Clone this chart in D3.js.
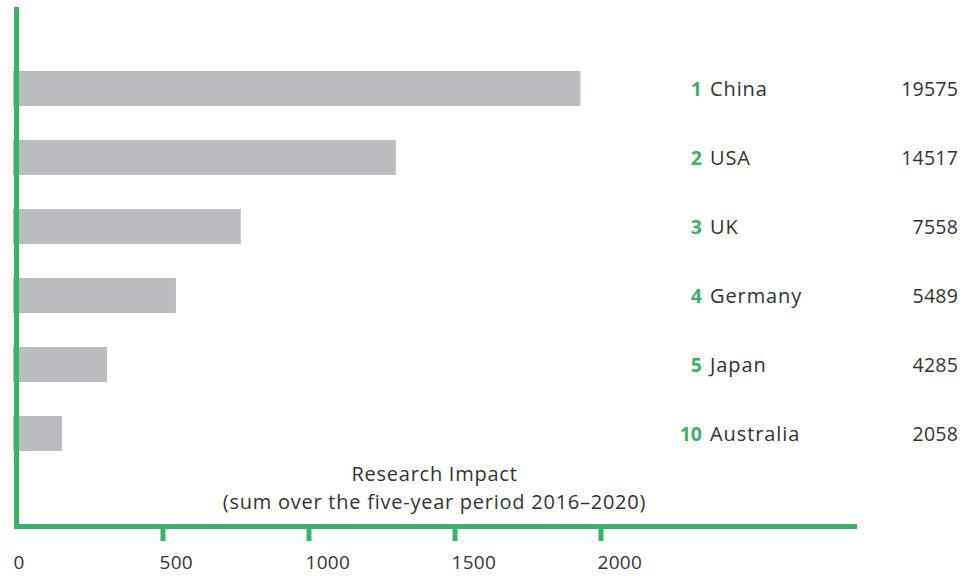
<!DOCTYPE html>
<html>
<head>
<meta charset="utf-8">
<script src="https://cdn.jsdelivr.net/npm/d3@7"></script>
<style>
  html, body { margin: 0; padding: 0; background: #fff; }
  svg { display: block; }
  text { font-family: "Open Sans", Lato, sans-serif; fill: #333; }
</style>
</head>
<body>
<svg id="chart" width="963" height="576"></svg>
<script>
// Countries in rank order, with their world rank
const countries = ["China", "USA", "UK", "Germany", "Japan", "Australia"];
const ranks = [1, 2, 3, 4, 5, 10];
// Research impact, summed over 2016–2020 (bar length)
const impact = [1931, 1299, 768, 546, 310, 156];
// Figure printed at the right of each row
const counts = [19575, 14517, 7558, 5489, 4285, 2058];
// Axis ticks
const tickValues = [0, 500, 1000, 1500, 2000];
const axisTitle = ["Research Impact", "(sum over the five-year period 2016\u20132020)"];

const green = "#3bb26b";
const barColor = "#bbbcc0";

const svg = d3.select("#chart");

const x = d3.scaleLinear().domain([0, 2000]).range([16.5, 600.5]);
const xEnd = 857;

const y = d3.scaleBand()
  .domain(countries)
  .range([54, 54 + 6 * 69])
  .paddingInner(34 / 69)
  .paddingOuter(17 / 69);

// Bars
svg.append("g")
  .selectAll("rect")
  .data(countries)
  .join("rect")
  .attr("x", x(0) - 3.5)
  .attr("y", d => y(d))
  .attr("height", y.bandwidth())
  .attr("width", (d, i) => x(impact[i]) - x(0) + 3.5)
  .attr("fill", barColor);

// Vertical axis line
svg.append("line")
  .attr("x1", x(0)).attr("x2", x(0))
  .attr("y1", 7).attr("y2", 529)
  .attr("stroke", green).attr("stroke-width", 5);

// Horizontal axis
const axisY = 526.5;
const xAxis = d3.axisBottom(x)
  .tickValues(tickValues)
  .tickFormat(d3.format("d"))
  .tickSizeInner(14.5)
  .tickSizeOuter(0)
  .tickPadding(0);

const gx = svg.append("g")
  .attr("transform", `translate(0,${axisY})`)
  .call(xAxis);

gx.select(".domain").remove();
gx.insert("line", ":first-child")
  .attr("x1", x(0) - 2.5).attr("x2", xEnd)
  .attr("y1", 0).attr("y2", 0)
  .attr("stroke", green).attr("stroke-width", 5);

gx.selectAll(".tick line")
  .attr("stroke", green)
  .attr("stroke-width", 5)
  .attr("y1", 2.5)
  .style("display", d => d === 0 ? "none" : null);

gx.selectAll(".tick text")
  .attr("text-anchor", "start")
  .attr("x", -3.5)
  .attr("y", 42.5)
  .attr("dy", null)
  .attr("fill", "#333")
  .style("font-family", "'Open Sans', sans-serif")
  .style("font-size", "19px")
  .style("letter-spacing", "0.3px");

// Axis title
svg.append("g")
  .selectAll("text")
  .data(axisTitle)
  .join("text")
  .attr("x", 434.5)
  .attr("y", (d, i) => 481 + i * 28)
  .attr("text-anchor", "middle")
  .style("font-size", "20px")
  .style("letter-spacing", "0.75px")
  .text(d => d);

// Right-hand ranking table
const rows = svg.append("g")
  .selectAll("g")
  .data(countries)
  .join("g")
  .attr("transform", d => `translate(0,${y(d) + y.bandwidth() / 2 + 7})`);

rows.append("text")
  .attr("x", 702)
  .attr("text-anchor", "end")
  .style("font-size", "19.5px")
  .style("font-weight", "bold")
  .style("fill", green)
  .text((d, i) => ranks[i]);

rows.append("text")
  .attr("x", 710)
  .style("font-size", "20px")
  .style("letter-spacing", "0.9px")
  .text(d => d);

rows.append("text")
  .attr("x", 958)
  .attr("text-anchor", "end")
  .style("font-size", "19.5px")
  .style("letter-spacing", "0.2px")
  .text((d, i) => counts[i]);
</script>
</body>
</html>
